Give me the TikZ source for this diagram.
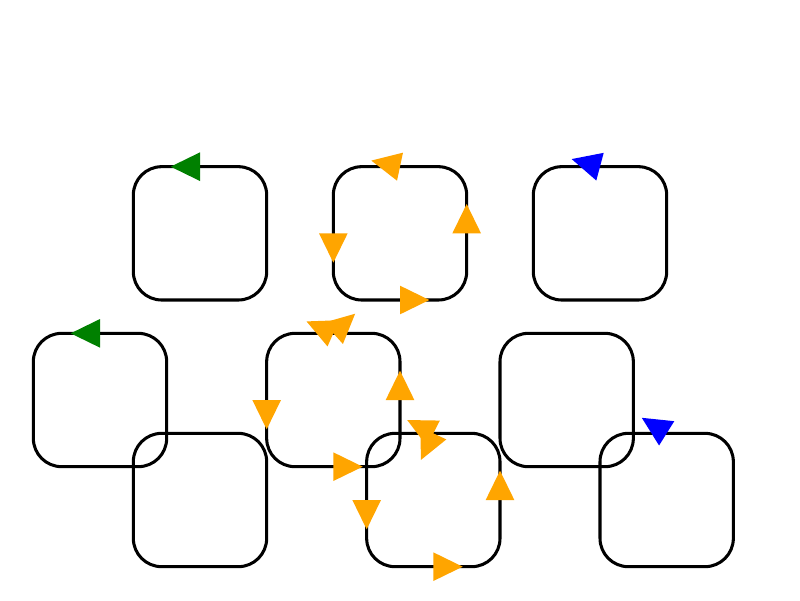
\documentclass[tikz,border=0pt]{standalone}
\usepackage{tikz}
\usetikzlibrary{arrows.meta}

\definecolor{tipgreen}{RGB}{0,128,0}
\definecolor{tipblue}{RGB}{0,0,255}
\definecolor{tiporange}{RGB}{255,165,0}

\tikzset{
    loopbox/.style={black, line width=2.6pt, rounded corners=0.85cm}
}

\begin{document}
\begin{tikzpicture}[x=1cm, y=-1cm]
            \useasboundingbox (0,0) rectangle (24,18);
            % rounded loops
            \foreach \x/\y in {4/5,10/5,16/5,1/10,8/10,15/10,4/13,11/13,18/13}{
                \draw[loopbox] (\x,\y) rectangle ++(4,4);
            }
            % heads at the middle of the edges
            \foreach \x/\y/\a in {6/5/180,3/10/180}{
                \fill[tipgreen, shift={(\x,\y)}, rotate=\a] (0,-0.43) -- (0.88,0) -- (0,0.43) -- cycle;
            }
            \foreach \x/\y/\a in {18/5/165,20/13/148}{
                \fill[tipblue, shift={(\x,\y)}, rotate=\a] (0,-0.43) -- (0.88,0) -- (0,0.43) -- cycle;
            }
            \foreach \x/\y/\a in {12/5/168,10/7/270,14/7/90,12/9/0,
                                  10/10/156,10/10/42,8/12/270,12/12/90,10/14/0,
                                  13/13/153,13/13/245,11/15/270,15/15/90,13/17/0}{
                \fill[tiporange, shift={(\x,\y)}, rotate=\a] (0,-0.43) -- (0.88,0) -- (0,0.43) -- cycle;
            }
        \end{tikzpicture}
\end{document}
